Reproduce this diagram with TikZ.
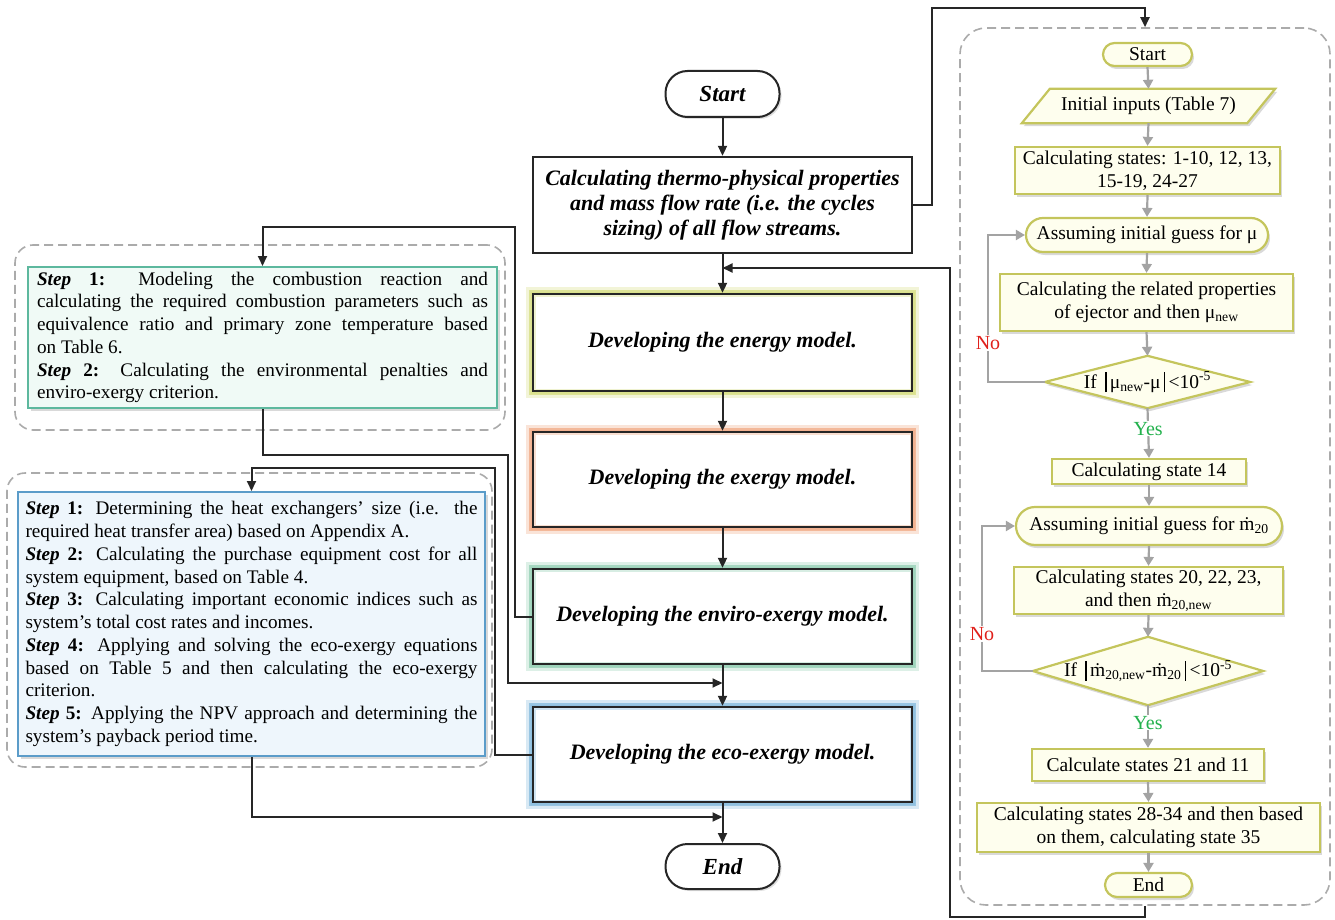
\documentclass[tikz,border=0pt]{standalone}
\usepackage{fontspec}
\setmainfont{Liberation Serif}
\usetikzlibrary{shadows,backgrounds,calc,arrows.meta}
\definecolor{glowY}{HTML}{D4DC7A}
\definecolor{glowO}{HTML}{F0A57E}
\definecolor{glowG}{HTML}{8ECDB0}
\definecolor{glowB}{HTML}{7DB6DA}
\definecolor{gfill}{HTML}{F0FAF6}
\definecolor{gline}{HTML}{5DB89E}
\definecolor{bfill}{HTML}{EEF6FC}
\definecolor{bline}{HTML}{5B9CC9}
\definecolor{rfill}{HTML}{FEFEEE}
\definecolor{rline}{HTML}{C4C55C}
\definecolor{dgray}{HTML}{ABABAB}
\definecolor{agray}{HTML}{A3A3A3}
\definecolor{nored}{HTML}{E0201B}
\definecolor{yesgreen}{HTML}{22B14C}
\definecolor{ink}{HTML}{262626}
\newcommand{\stpl}[1]{\textbf{\textit{Step} #1:}}
\newcommand{\absbar}{\,\rule[-4pt]{1.6pt}{20pt}\,}
\begin{document}
\begin{tikzpicture}[x=1pt,y=-1pt,
  arr/.style={draw=ink, line width=2pt, -{Triangle[length=10pt,width=9pt]}},
  garr/.style={draw=agray, line width=2.2pt, -{Triangle[length=9pt,width=10pt]}},
  glow/.style={fill=none,
               preaction={draw=#1, line width=14pt, opacity=0.3},
               preaction={draw=#1, line width=8pt, opacity=0.7},
               preaction={fill=white},
               preaction={draw=#1, line width=5pt, opacity=0.35}},
  mainbox/.style={draw=ink, line width=2.4pt, fill=white, minimum width=379pt,
    minimum height=96pt, align=center, inner sep=0pt,
    font=\fontsize{22}{25}\selectfont\bfseries\itshape},
  term/.style={draw=ink, line width=2pt, fill=white, rounded corners=22pt,
    minimum width=114pt, minimum height=46pt,
    font=\fontsize{23}{25}\selectfont\bfseries\itshape,
    drop shadow={opacity=0.25, shadow xshift=2pt, shadow yshift=-2pt}},
  stepbox/.style={draw=#1, line width=2pt, align=justify,
    font=\fontsize{19.2}{22.75}\selectfont,
    drop shadow={opacity=0.3, shadow xshift=3pt, shadow yshift=-3pt}},
  cont/.style={draw=dgray, dash pattern=on 9pt off 5pt, line width=1.6pt,
    rounded corners=18pt},
  rbox/.style={draw=rline, fill=rfill, line width=2.2pt, align=center,
    inner sep=1pt, font=\fontsize{19.5}{23}\selectfont,
    drop shadow={opacity=0.3, shadow xshift=2pt, shadow yshift=-3pt}},
  rterm/.style={rbox, rounded corners=#1},
  rtext/.style={align=center, inner sep=0pt, font=\fontsize{19.5}{23}\selectfont},
  nolab/.style={fill=white, text=nored, inner sep=1pt, font=\fontsize{20}{22}\selectfont},
  yeslab/.style={fill=white, text=yesgreen, inner sep=1pt, font=\fontsize{20}{22}\selectfont}
]
\useasboundingbox (0,0) rectangle (1335,920);

% ---------- central column ----------
\node[term] (start) at (722.5,94) {Start};
\node[mainbox] (calc) at (722.5,205) {Calculating thermo-physical properties\\and mass flow rate (i.e. the cycles\\sizing) of all flow streams.};
\node[mainbox, glow=glowY, minimum height=97pt] (energy) at (722.5,342.5) {Developing the energy model.};
\node[mainbox, glow=glowO, minimum height=95pt] (exergy) at (722.5,479.5) {Developing the exergy model.};
\node[mainbox, glow=glowG, minimum height=95pt] (enviro) at (722.5,616.5) {Developing the enviro-exergy model.};
\node[mainbox, glow=glowB, minimum height=95pt] (eco) at (722.5,754.5) {Developing the eco-exergy model.};
\node[term, minimum height=45pt] (end) at (722.5,866.5) {End};

\coordinate (j1) at (722.5,268);
\coordinate (j2) at (722.5,683);
\coordinate (j3) at (722.5,817);

% ---------- left step boxes ----------
\node[cont, minimum width=490pt, minimum height=185pt] (gcont) at (260,337.5) {};
\node[stepbox=gline, fill=gfill, text width=451pt, inner xsep=9pt, inner ysep=2.5pt,
      minimum height=141pt] (gbox) at (262.5,337.5)
 {\stpl{1} Modeling the combustion reaction and\linebreak
  calculating the required combustion parameters such as\linebreak
  equivalence ratio and primary zone temperature based\linebreak
  on Table 6.\newline
  \stpl{2} Calculating the environmental penalties and\linebreak
  enviro-exergy criterion.};

\node[cont, minimum width=485pt, minimum height=294pt] (bcont) at (249.5,620) {};
\node[stepbox=bline, fill=bfill, text width=452pt, inner xsep=7.5pt, inner ysep=2pt,
      minimum height=264pt] (bbox) at (251.5,624)
 {\stpl{1} Determining the heat exchangers’ size (i.e. the\linebreak
  required heat transfer area) based on Appendix A.\newline
  \stpl{2} Calculating the purchase equipment cost for all\linebreak
  system equipment, based on Table 4.\newline
  \stpl{3} Calculating important economic indices such as\linebreak
  system’s total cost rates and incomes.\newline
  \stpl{4} Applying and solving the eco-exergy equations\linebreak
  based on Table 5 and then calculating the eco-exergy\linebreak
  criterion.\newline
  \stpl{5} Applying the NPV approach and determining the\linebreak
  system’s payback period time.};

% ---------- right flowchart ----------
\node[cont, rounded corners=26pt, minimum width=370pt, minimum height=877pt] (rcont) at (1145,466.5) {};
\node[rterm=11.5pt, minimum width=89pt, minimum height=23pt] (rstart) at (1147.5,54.5) {Start};
\node[rtext, minimum width=225pt, minimum height=34pt] (rinput) at (1148.5,106) {Initial inputs (Table 7)};
\node[rbox, minimum width=265pt, minimum height=47pt] (rstates) at (1147.5,170.5) {Calculating states: 1-10, 12, 13,\\15-19, 24-27};
\node[rterm=17pt, minimum width=242pt, minimum height=34pt] (rguess1) at (1147,235) {Assuming initial guess for μ};
\node[rbox, minimum width=293pt, minimum height=57pt] (rprop) at (1146.5,302.5) {Calculating the related properties\\of ejector and then μ\textsubscript{new}};
\node[rtext, minimum width=205pt, minimum height=52pt] (rdec1) at (1147.5,382) {If \absbar μ\textsubscript{new}-μ\absbar<10\textsuperscript{-5}};
\node[rbox, minimum width=194pt, minimum height=25pt] (rs14) at (1149,471.5) {Calculating state 14};
\node[rterm=19pt, minimum width=266pt, minimum height=38pt] (rguess2) at (1149,526) {Assuming initial guess for \.{m}\textsubscript{20}};
\node[rbox, minimum width=269pt, minimum height=47pt] (rs20) at (1148.5,590.5) {Calculating states 20, 22, 23,\\and then \.{m}\textsubscript{20,new}};
\node[rtext, minimum width=230pt, minimum height=68pt] (rdec2) at (1148,671) {If \absbar\.{m}\textsubscript{20,new}-\.{m}\textsubscript{20}\absbar<10\textsuperscript{-5}};
\node[rbox, minimum width=232pt, minimum height=32pt] (rs21) at (1148,765) {Calculate states 21 and 11};
\node[rbox, minimum width=343pt, minimum height=49pt] (rs28) at (1148.5,827.5) {Calculating states 28-34 and then based\\on them, calculating state 35};
\node[rterm=12pt, minimum width=87pt, minimum height=24pt] (rend) at (1148.5,885) {End};

\begin{scope}[on background layer]
  \draw[rbox] ($(rinput.south west)+(-14,0)$) -- ($(rinput.north west)+(14,0)$)
     -- ($(rinput.north east)+(14,0)$) -- ($(rinput.south east)+(-14,0)$) -- cycle;
  \draw[rbox] (rdec1.west) -- (rdec1.north) -- (rdec1.east) -- (rdec1.south) -- cycle;
  \draw[rbox] (rdec2.west) -- (rdec2.north) -- (rdec2.east) -- (rdec2.south) -- cycle;
\end{scope}

% right connectors
\draw[garr] (rstart.south) -- (rinput.north);
\draw[garr] (rinput.south) -- (rstates.north);
\draw[garr] (rstates.south) -- (rguess1.north);
\draw[garr] (rguess1.south) -- (rprop.north);
\draw[garr] (rprop.south) -- (rdec1.north);
\draw[garr] (rdec1.south) -- node[yeslab, pos=0.41] (yes1) {Yes} (rs14.north);
\draw[garr] (rs14.south) -- (rguess2.north);
\draw[garr] (rguess2.south) -- (rs20.north);
\draw[garr] (rs20.south) -- (rdec2.north);
\draw[garr] (rdec2.south) -- node[yeslab, pos=0.41] (yes2) {Yes} (rs21.north);
\draw[garr] (rs21.south) -- (rs28.north);
\draw[garr] (rs28.south) -- (rend.north);
\draw[garr] (rdec1.west) -- ++(-57,0) |- (rguess1.west);
\node[nolab] (no1) at (988,343) {No};
\draw[garr] (rdec2.west) -- ++(-51,0) |- (rguess2.west);
\node[nolab] (no2) at (982,634) {No};

% ---------- central connectors ----------
\draw[arr] (start.south) -- (calc.north);
\draw[arr] (calc.south) -- (energy.north);
\draw[arr] (energy.south) -- (exergy.north);
\draw[arr] (exergy.south) -- (enviro.north);
\draw[arr] (enviro.south) -- (eco.north);
\draw[arr] (eco.south) -- (end.north);
\draw[arr] (calc.east) -| (932,8) -| (rcont.north);
\draw[arr] (rcont.south) |- (950,917) |- (j1);
\draw[arr] (enviro.west) -| (515,227) -| (gbox.north);
\draw[arr] (gbox.south) |- (508,455) |- (j2);
\draw[arr] (eco.west) -| (495,468) -| (bbox.north);
\draw[arr] (bbox.south) |- (j3);
\end{tikzpicture}
\end{document}
